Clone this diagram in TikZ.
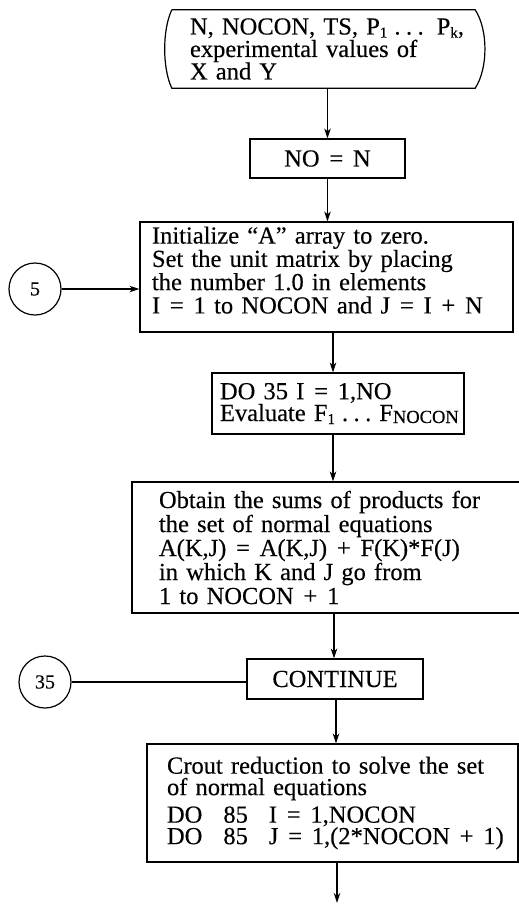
\documentclass[tikz,border=0pt]{standalone}
\usepackage{fontspec}
\setmainfont{Liberation Serif}[FakeBold=0.3]
\usetikzlibrary{arrows.meta}
\newcommand\myeq{\hspace{0.4em}=\hspace{0.4em}}
\newcommand\myplus{\hspace{0.4em}+\hspace{0.4em}}
\newcommand\mysub[1]{\raisebox{-3pt}{\fontsize{15}{15}\selectfont #1}}
\newcommand\mysubc[1]{\raisebox{-2pt}{\fontsize{18.5}{18.5}\selectfont #1}}
\newcommand\mydots{.\hspace{5.5pt}.\hspace{5.5pt}.}
\newcommand\ws{\hspace{8.3pt}}
\begin{document}
\lineskiplimit=-100pt
\begin{tikzpicture}[x=1pt,y=1pt,
  box/.style={draw, line width=1.2pt, rectangle},
  txt/.style={font=\fontsize{24.5}{#1}\selectfont},
  txt/.default=23,
  circ/.style={draw, line width=1.2pt, circle, minimum size=52pt, inner sep=0pt,
    font=\fontsize{20}{20}\selectfont},
  arr/.style={line width=1.2pt, -{Stealth[length=10pt,width=6.5pt,inset=3pt]}},
  plain/.style={line width=1.2pt}]
\useasboundingbox (0,0) rectangle (519,-906);
\clip (0,0) rectangle (519,-906);

% input/output shape
\node[txt=22.5, minimum width=303pt, minimum height=78pt, inner xsep=18pt,
  inner ysep=0pt, text width=267pt, align=left] (in) at (323.5,-49)
  {\mbox{N, NOCON, TS, P\mysub{1}\hspace{7pt}\mydots\hspace{13pt}P\mysub{k},}\\
   experimental values of\\
   X and Y};
\draw[plain] (in.north west) -- (in.north east)
  .. controls +(13,-20) and +(13,20) .. (in.south east)
  -- (in.south west)
  .. controls +(-9.5,20) and +(-9.5,-20) .. (in.north west);

\node[box, txt, minimum width=155pt, minimum height=39pt, inner sep=0pt] (no)
  at (327.5,-158.5) {NO\myeq N};

\node[box, txt=23.3, minimum width=373pt, minimum height=110pt, inner xsep=12pt,
  inner ysep=0pt, text width=349pt, align=left] (init) at (326.5,-277)
  {Initialize “A” array to zero.\\
   Set the unit matrix by placing\\
   the number 1.0 in elements\\
   \mbox{I\myeq 1\ws to\ws NOCON\ws and\ws J\myeq I\myplus N\rule[-14pt]{0pt}{14pt}}};

\node[circ] (c5) at (35,-289) {5};

\node[box, txt=20, minimum width=252pt, minimum height=61pt, inner xsep=8pt,
  inner ysep=0pt, text width=236pt, align=left] (do) at (338,-403.5)
  {\mbox{DO 35 I\myeq 1,NO}\\
   \mbox{Evaluate F\mysub{1}\hspace{7pt}\mydots\hspace{8pt}F\mysubc{NOCON}}};

\node[box, txt=24, minimum width=398pt, minimum height=131pt, inner xsep=27pt,
  inner ysep=0pt, text width=344pt, align=left] (ob) at (331,-547.5)
  {Obtain the sums of products for\\
   the set of normal equations\\
   \mbox{A(K,J)\myeq A(K,J)\myplus F(K)*F(J)}\\
   in which K and J go from\\
   1 to NOCON\myplus 1};

\node[box, txt, minimum width=176pt, minimum height=40pt, inner sep=0pt] (cont)
  at (335,-679) {CONTINUE};

\node[circ] (c35) at (45,-682) {35};

\node[box, txt=21.5, minimum width=371pt, minimum height=118pt, inner xsep=20pt,
  inner ysep=0pt, text width=331pt, align=left] (cr) at (332.5,-803)
  {Crout reduction to solve the set\\
   of normal equations\\[5pt]
   \mbox{DO\hspace{21pt}85\hspace{21pt}I\myeq 1,NOCON}\\
   \mbox{DO\hspace{21pt}85\hspace{21pt}J\myeq 1,(2*NOCON\myplus 1)}};

\coordinate (end) at (337,-903);

\draw[arr] (no.north |- in.south) -- (no.north);
\draw[arr] (no.south) -- (no.south |- init.north);
\draw[arr] (c5) -- (c5 -| init.west);
\draw[arr] ([xshift=6.5pt]init.south) -- ([xshift=-5pt]do.north);
\draw[arr] ([xshift=-5pt]do.south) -- ([xshift=2pt]ob.north);
\draw[arr] ([xshift=3pt]ob.south) -- ([xshift=-1pt]cont.north);
\draw[plain] (c35) -- (c35 -| cont.west);
\draw[arr] ([xshift=1pt]cont.south) -- ([xshift=3.5pt]cr.north);
\draw[arr] ([xshift=4.5pt]cr.south) -- (end);
\end{tikzpicture}
\end{document}
